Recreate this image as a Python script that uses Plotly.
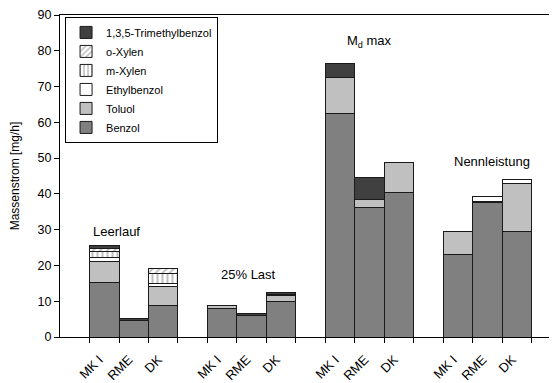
import plotly.graph_objects as go

# --- data ---
groups = ["Leerlauf", "25% Last", "Md max", "Nennleistung"]
fuels = ["MK I", "RME", "DK"]
x_pos = [1.5, 2.5, 3.5, 5.5, 6.5, 7.5, 9.5, 10.5, 11.5, 13.5, 14.5, 15.5]
x_labels = fuels * 4

benzol      = [15.1, 4.6, 8.8,   8.1, 5.9, 10.0,  62.5, 36.3, 40.5,  23.0, 37.6, 29.4]
toluol      = [6.0,  0.0, 5.2,   0.7, 0.0, 1.6,   10.0, 2.2,  8.3,   6.5,  0.4,  13.4]
ethylbenzol = [1.0,  0.0, 0.9,   0.0, 0.0, 0.3,   0.0,  0.0,  0.0,   0.0,  1.4,  1.1]
m_xylen     = [1.8,  0.0, 2.8,   0.0, 0.0, 0.0,   0.0,  0.0,  0.0,   0.0,  0.0,  0.0]
o_xylen     = [0.9,  0.0, 1.4,   0.0, 0.0, 0.0,   0.0,  0.0,  0.0,   0.0,  0.0,  0.0]
tmb         = [0.7,  0.7, 0.0,   0.0, 0.6, 0.5,   4.0,  6.1,  0.0,   0.0,  0.0,  0.0]

series = [
    ("Benzol", benzol, "#808080", None),
    ("Toluol", toluol, "#c0c0c0", None),
    ("Ethylbenzol", ethylbenzol, "#ffffff", None),
    ("m-Xylen", m_xylen, "#ffffff", "|"),
    ("o-Xylen", o_xylen, "#ffffff", "/"),
    ("1,3,5-Trimethylbenzol", tmb, "#404040", None),
]

fig = go.Figure()
for name, vals, color, pat in series:
    marker = dict(color=color, line=dict(color="#1a1a1a", width=1))
    if pat:
        marker["pattern"] = dict(shape=pat, fgcolor="#808080", bgcolor="#ffffff",
                                 size=5, solidity=0.4)
    fig.add_trace(go.Bar(x=x_pos, y=vals, name=name, width=1, marker=marker))

# the page body has an 8px default margin; compensate in the figure margins
fig.update_layout(
    width=557, height=383,
    margin=dict(l=52, r=0, t=7, b=54, autoexpand=False),
    barmode="stack",
    plot_bgcolor="white", paper_bgcolor="white",
    font=dict(family="Liberation Sans, Arial, sans-serif", color="#000000", size=12),
    showlegend=True,
    legend=dict(x=0.01, y=0.994, xanchor="left", yanchor="top",
                traceorder="reversed", bordercolor="#000000", borderwidth=1,
                bgcolor="white", font=dict(size=11), tracegroupgap=0,
                itemwidth=30),
    xaxis=dict(range=[0, 17.12], showline=True, linecolor="#000000", linewidth=1,
               mirror=True, showgrid=False, zeroline=False, automargin=False,
               tickmode="array", tickvals=x_pos, ticktext=x_labels,
               ticks="", tickangle=-45, tickfont=dict(size=13),
               ticklabelstandoff=9, ticklabelshift=-5,
               minor=dict(tickmode="array", tickvals=list(range(1, 17)),
                          ticks="outside", ticklen=5, tickcolor="#000000")),
    yaxis=dict(range=[0, 90], dtick=10, showline=True, linecolor="#000000",
               linewidth=1, showgrid=False, zeroline=False, ticks="outside",
               automargin=False,
               ticklen=5, tickcolor="#000000", tickfont=dict(size=12.5),
               title=dict(text="Massenstrom [mg/h]", font=dict(size=12), standoff=16)),
)

ann = [
    (1.9, 29.5, "Leerlauf"),
    (6.4, 17.5, "25% Last"),
    (10.5, 82.5, "M<sub>d</sub> max"),
    (14.65, 49.0, "Nennleistung"),
]
for ax, ay, t in ann:
    fig.add_annotation(x=ax, y=ay, text=t, showarrow=False, font=dict(size=13),
                       xref="x", yref="y")

fig.write_html("out.html")
